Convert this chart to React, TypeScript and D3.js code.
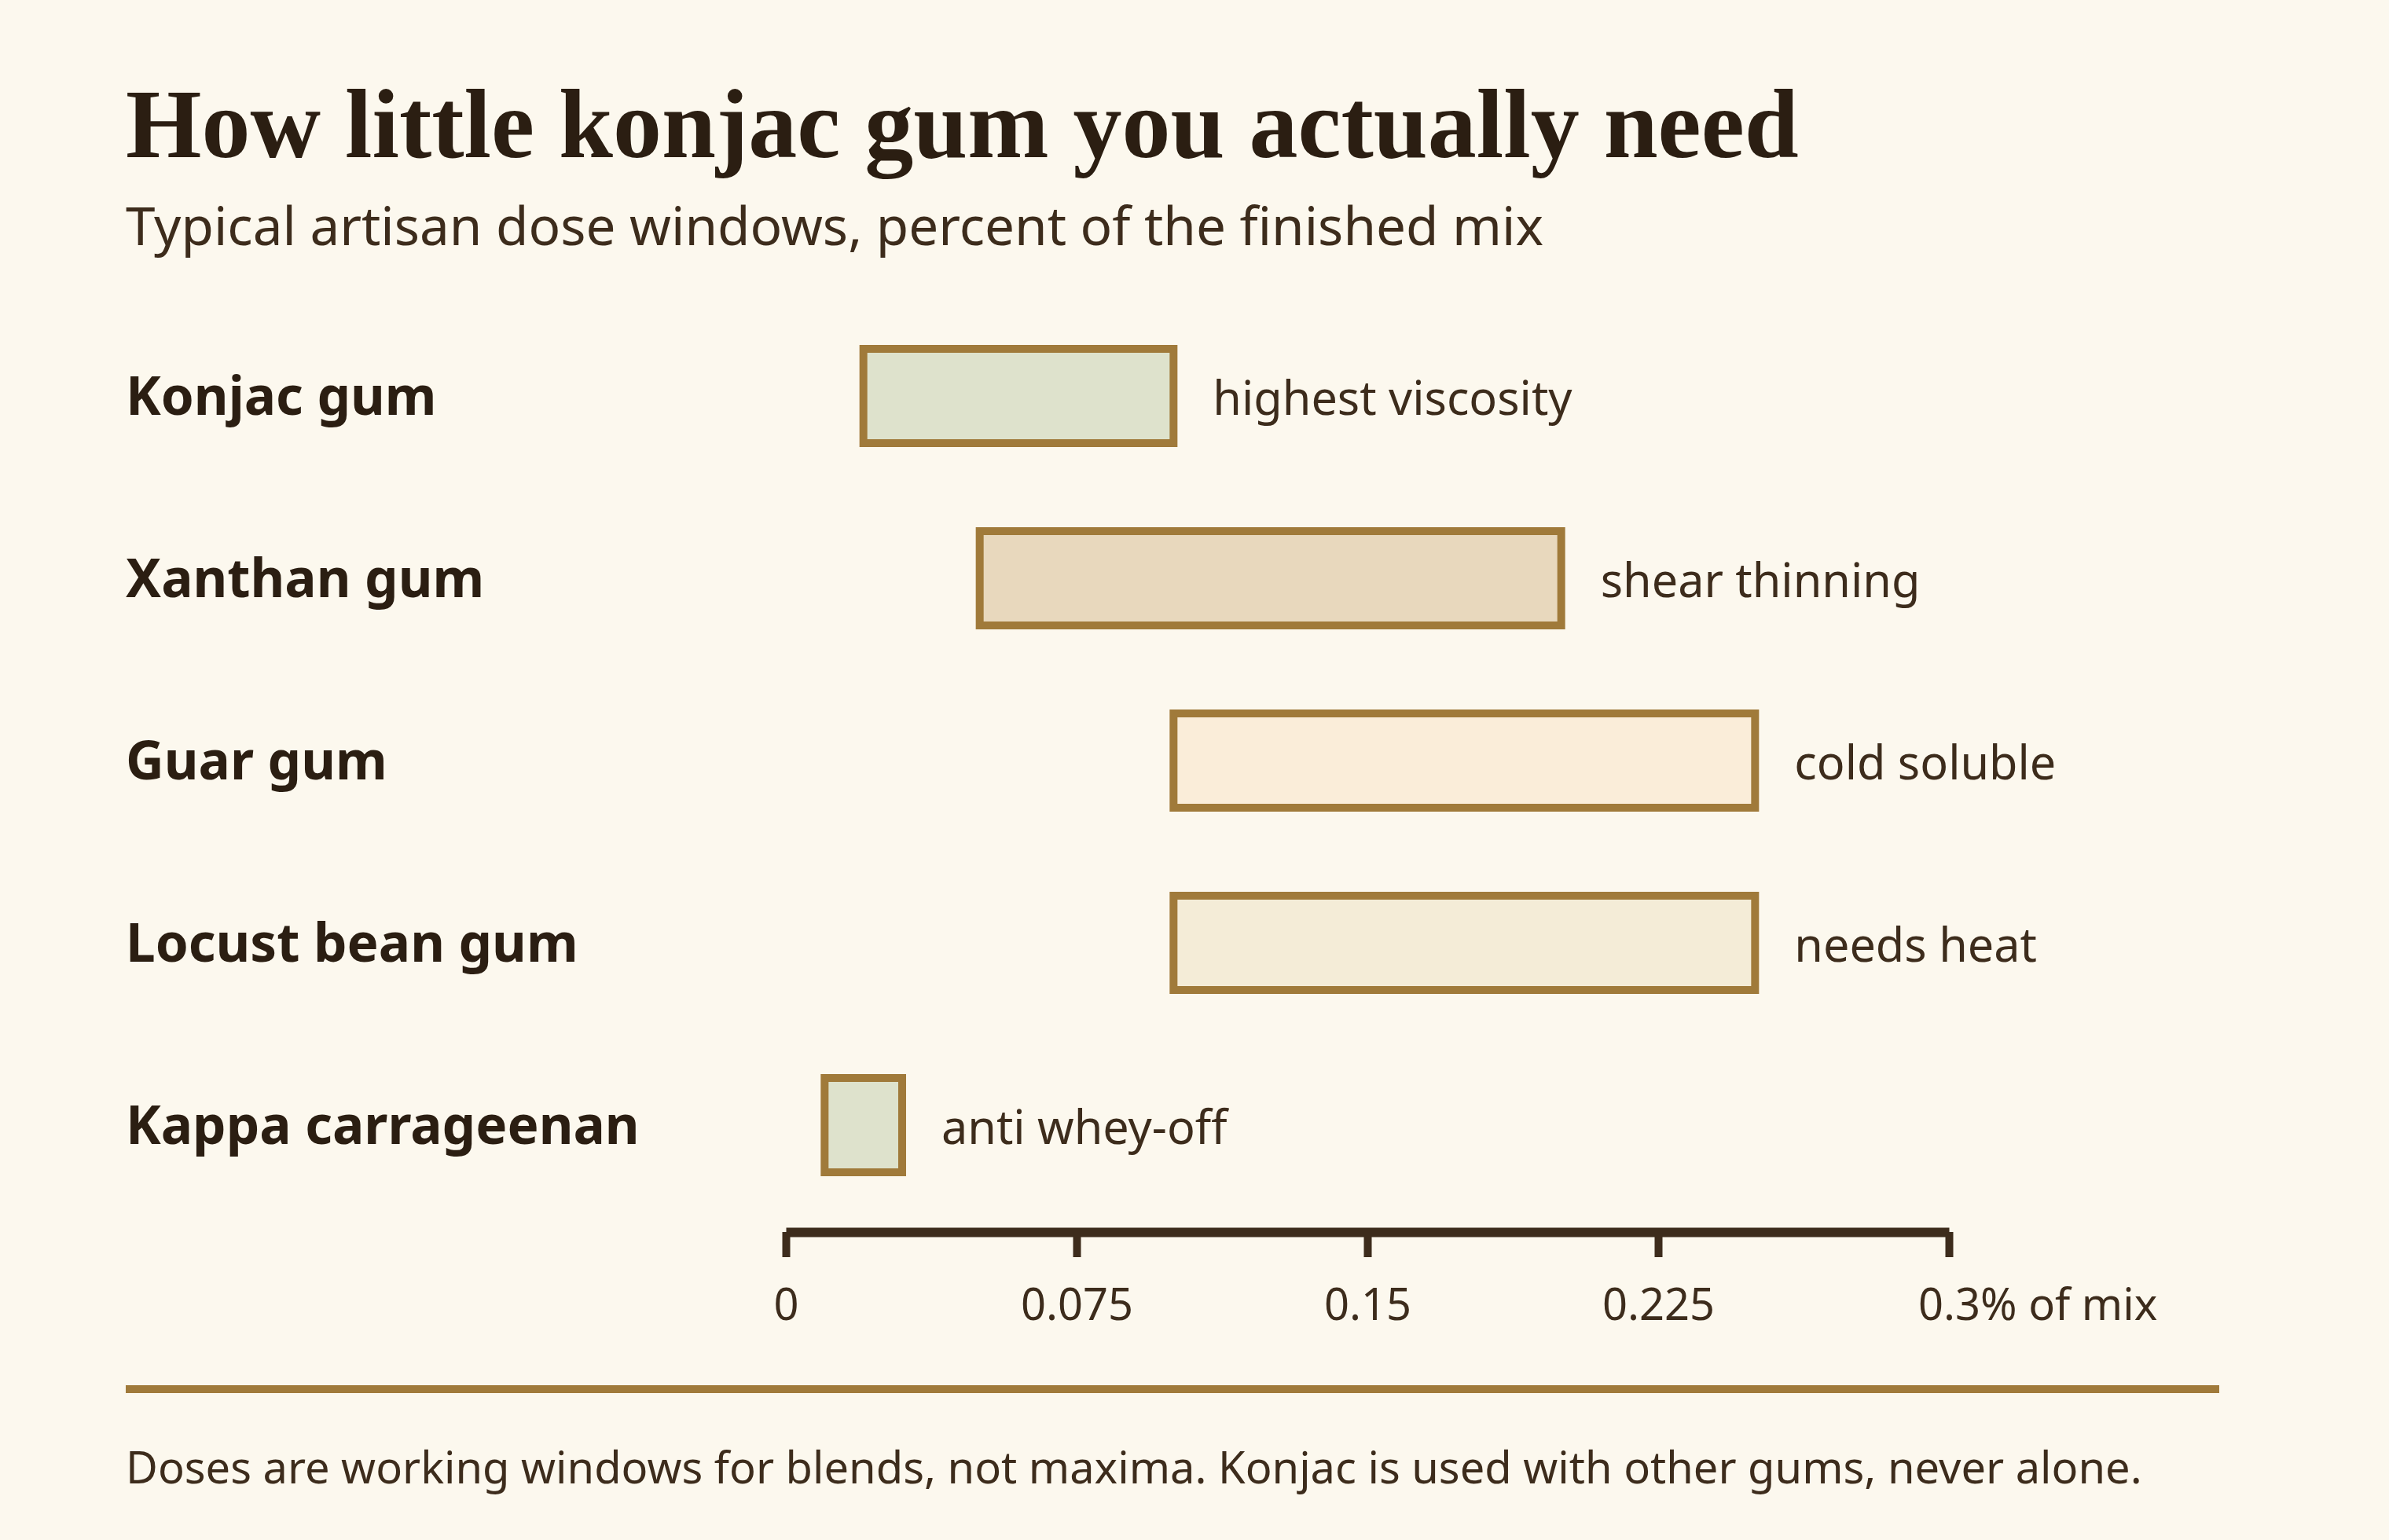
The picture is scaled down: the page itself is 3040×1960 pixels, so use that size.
import React, { useEffect, useRef } from 'react';
import * as d3 from 'd3';

// dose windows, percent of finished mix
const gums = ['Konjac gum', 'Xanthan gum', 'Guar gum', 'Locust bean gum', 'Kappa carrageenan'];
const doseLow = [0.02, 0.05, 0.1, 0.1, 0.01];
const doseHigh = [0.1, 0.2, 0.25, 0.25, 0.03];
const notes = ['highest viscosity', 'shear thinning', 'cold soluble', 'needs heat', 'anti whey-off'];
const fills = ['#dee2cc', '#e8d8bd', '#faedd9', '#f4ecd7', '#dee2cc'];
const tickValues = [0, 0.075, 0.15, 0.225, 0.3];

const W = 3040;
const H = 1960;
const BG = '#fcf8ee';
const INK = '#2b1e12';
const INK2 = '#3d2c1c';
const GOLD = '#a07a3a';
const SANS = "'Segoe UI', 'Noto Sans', sans-serif";
const SERIF = "Georgia, 'Liberation Serif', serif";

const App: React.FC = () => {
  const svgRef = useRef<SVGSVGElement>(null);

  useEffect(() => {
    document.body.style.margin = '0';
    if (!svgRef.current) return;
    const svg = d3.select(svgRef.current);
    svg.selectAll('*').remove();

    const left = 160;
    const right = 2824;

    svg.append('rect').attr('width', W).attr('height', H).attr('fill', BG);

    // Header
    svg.append('text')
      .attr('x', left).attr('y', 200)
      .attr('font-family', SERIF).attr('font-weight', 700).attr('font-size', 124)
      .attr('fill', INK)
      .text('How little konjac gum you actually need');

    svg.append('text')
      .attr('x', left).attr('y', 312)
      .attr('font-family', SANS).attr('font-size', 67.4)
      .attr('fill', INK2)
      .text('Typical artisan dose windows, percent of the finished mix');

    // Scales
    const x = d3.scaleLinear().domain([0, 0.3]).range([1000, 2480]);
    const y = d3.scalePoint<string>().domain(gums).range([504, 1432]);
    const barH = 120;

    const rows = svg.append('g')
      .selectAll('g')
      .data(gums)
      .enter()
      .append('g');

    rows.append('text')
      .attr('x', left)
      .attr('y', d => y(d) || 0)
      .attr('dy', '0.35em')
      .attr('font-family', SANS).attr('font-weight', 700).attr('font-size', 67.4)
      .attr('fill', INK)
      .text(d => d);

    rows.append('rect')
      .attr('x', (_, i) => x(doseLow[i]))
      .attr('y', d => (y(d) || 0) - barH / 2)
      .attr('width', (_, i) => x(doseHigh[i]) - x(doseLow[i]))
      .attr('height', barH)
      .attr('fill', (_, i) => fills[i])
      .attr('stroke', GOLD)
      .attr('stroke-width', 10);

    rows.append('text')
      .attr('x', (_, i) => x(doseHigh[i]) + 50)
      .attr('y', d => y(d) || 0)
      .attr('dy', '0.4em')
      .attr('font-family', SANS).attr('font-size', 59.3)
      .attr('fill', INK2)
      .text((_, i) => notes[i]);

    // Axis
    const axis = svg.append('g')
      .attr('transform', 'translate(0, 1568)')
      .call(
        d3.axisBottom(x)
          .tickValues(tickValues)
          .tickSize(32)
          .tickSizeOuter(0)
          .tickPadding(40)
          .tickFormat(d => String(d))
      );
    axis.select('.domain').attr('stroke', INK2).attr('stroke-width', 12);
    axis.selectAll('.tick line').attr('stroke', INK2).attr('stroke-width', 10);
    axis.selectAll('.tick text')
      .attr('fill', INK2)
      .attr('font-family', SANS)
      .attr('font-size', 56);

    const lastText = axis.selectAll<SVGTextElement, number>('.tick text')
      .filter(d => d === 0.3);
    const node = lastText.node();
    if (node) {
      const w = node.getComputedTextLength();
      lastText.attr('text-anchor', 'start').attr('x', -w / 2);
      lastText.append('tspan').text('% of mix');
    }

    // Footer
    svg.append('line')
      .attr('x1', left).attr('x2', right)
      .attr('y1', 1768).attr('y2', 1768)
      .attr('stroke', GOLD).attr('stroke-width', 10);

    svg.append('text')
      .attr('x', left).attr('y', 1888)
      .attr('font-family', SANS).attr('font-size', 56)
      .attr('fill', INK2)
      .text('Doses are working windows for blends, not maxima. Konjac is used with other gums, never alone.');
  }, []);

  return <svg ref={svgRef} width={W} height={H} style={{ display: 'block' }} />;
};

export default App;
